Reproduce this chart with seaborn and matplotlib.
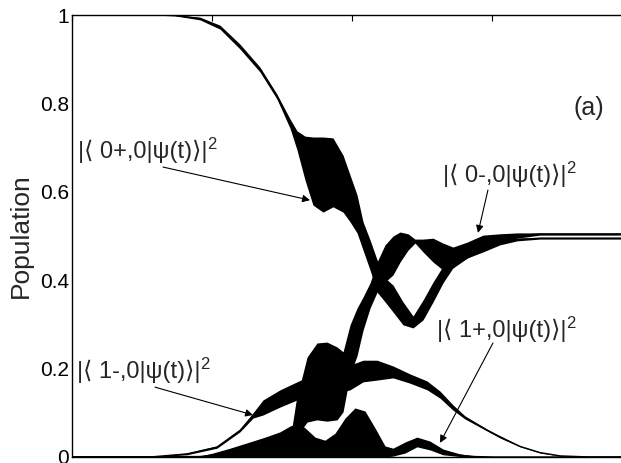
import numpy as np
import pandas as pd
import matplotlib
matplotlib.use("Agg")
import matplotlib.pyplot as plt
import seaborn as sns

# Fast Rabi-like oscillations are shown as bands: for each state, the time grid
# (arbitrary units) and the upper / lower envelope of the population.
t_0p = [0.0, 0.557, 0.736, 0.914, 1.057, 1.2, 1.343, 1.464, 1.557, 1.607, 1.664, 1.721,
        1.793, 1.864, 1.936, 1.986, 2.036, 2.079, 2.129, 2.179, 2.236, 2.293, 2.364,
        2.436, 2.507, 2.579, 2.65, 2.721, 2.821, 2.936, 3.057, 3.179, 3.343, 3.629, 4.0]
hi_0p = [1.0, 1.0, 1.0, 0.995, 0.977, 0.934, 0.882, 0.821, 0.765, 0.738, 0.726, 0.724,
         0.724, 0.722, 0.683, 0.638, 0.593, 0.532, 0.491, 0.446, 0.405, 0.389, 0.351,
         0.319, 0.355, 0.396, 0.432, 0.455, 0.473, 0.482, 0.491, 0.495, 0.497, 0.497, 0.497]
lo_0p = [1.0, 1.0, 0.998, 0.989, 0.968, 0.923, 0.871, 0.810, 0.744, 0.695, 0.627, 0.570,
         0.554, 0.566, 0.554, 0.532, 0.507, 0.468, 0.423, 0.373, 0.351, 0.328, 0.299,
         0.292, 0.310, 0.351, 0.394, 0.428, 0.450, 0.464, 0.480, 0.489, 0.493, 0.493, 0.493]

t_0m = [0.0, 1.2, 1.414, 1.557, 1.607, 1.629, 1.679, 1.75, 1.821, 1.893, 1.936, 1.986,
        2.036, 2.079, 2.129, 2.179, 2.236, 2.293, 2.343, 2.4, 2.45, 2.507, 2.579, 2.65,
        2.721, 2.821, 2.936, 3.057, 3.179, 3.343, 3.629, 4.0]
hi_0m = [0.0, 0.002, 0.016, 0.038, 0.140, 0.163, 0.226, 0.258, 0.260, 0.249, 0.238, 0.299,
         0.337, 0.362, 0.394, 0.441, 0.480, 0.500, 0.509, 0.505, 0.493, 0.493, 0.495, 0.484,
         0.475, 0.486, 0.502, 0.505, 0.507, 0.507, 0.507, 0.507]
lo_0m = [0.0, 0.0, 0.0, 0.0, 0.016, 0.057, 0.079, 0.084, 0.081, 0.084, 0.102, 0.186,
         0.229, 0.287, 0.337, 0.373, 0.396, 0.412, 0.441, 0.468, 0.484, 0.464, 0.441, 0.423,
         0.428, 0.450, 0.468, 0.484, 0.495, 0.502, 0.502, 0.502]

t_1m = [0.0, 0.557, 0.821, 1.036, 1.2, 1.293, 1.364, 1.486, 1.607, 1.721, 1.843, 1.986,
        2.079, 2.179, 2.293, 2.414, 2.536, 2.629, 2.721, 2.807, 2.964, 3.057, 3.2, 3.343,
        3.486, 3.7, 4.0]
hi_1m = [0.0, 0.0, 0.009, 0.025, 0.063, 0.100, 0.129, 0.152, 0.170, 0.186, 0.192, 0.208,
         0.219, 0.219, 0.206, 0.188, 0.172, 0.149, 0.118, 0.093, 0.063, 0.048, 0.025, 0.011,
         0.003, 0.0, 0.0]
lo_1m = [0.0, 0.0, 0.005, 0.020, 0.057, 0.088, 0.095, 0.113, 0.129, 0.133, 0.140, 0.152,
         0.170, 0.174, 0.179, 0.167, 0.152, 0.133, 0.106, 0.086, 0.059, 0.043, 0.023, 0.009,
         0.002, 0.0, 0.0]

t_1p = [0.0, 0.914, 1.007, 1.129, 1.25, 1.379, 1.486, 1.557, 1.614, 1.664, 1.736, 1.807,
        1.879, 1.95, 2.021, 2.093, 2.164, 2.236, 2.293, 2.379, 2.464, 2.557, 2.65, 2.771,
        2.879, 3.021, 4.0]
hi_1p = [0.0, 0.002, 0.009, 0.020, 0.032, 0.045, 0.057, 0.070, 0.077, 0.066, 0.045, 0.038,
         0.054, 0.088, 0.111, 0.104, 0.066, 0.025, 0.020, 0.034, 0.045, 0.036, 0.018, 0.007,
         0.002, 0.0, 0.0]
lo_1p = [0.0, 0.0, 0.0, 0.0, 0.0, 0.0, 0.0, 0.0, 0.0, 0.0, 0.0, 0.0,
         0.0, 0.0, 0.0, 0.0, 0.0, 0.0, 0.002, 0.009, 0.023, 0.016, 0.005, 0.001,
         0.0, 0.0, 0.0]

y_ticks = [0, 0.2, 0.4, 0.6, 0.8, 1]
y_tick_labels = ["0", "0.2", "0.4", "0.6", "0.8", "1"]
x_ticks = [0, 1, 2, 3, 4]

curves = {
    "0+": (t_0p, hi_0p, lo_0p),
    "0-": (t_0m, hi_0m, lo_0m),
    "1-": (t_1m, hi_1m, lo_1m),
    "1+": (t_1p, hi_1p, lo_1p),
}

rows = []
for state, (tt, hi, lo) in curves.items():
    for t, a, b in zip(tt, hi, lo):
        rows.append((state, t, a))
        rows.append((state, t, b))
df = pd.DataFrame(rows, columns=["state", "t", "population"])

sns.set_style("white")
plt.rcParams["font.family"] = ["Liberation Sans", "DejaVu Sans"]

fig = plt.figure(figsize=(6.21, 4.63), dpi=100)
ax = fig.add_axes([72 / 621, 6 / 463, 560 / 621, 442 / 463])

sns.lineplot(
    data=df, x="t", y="population", hue="state",
    palette={s: "black" for s in curves},
    estimator="mean", errorbar=("pi", 100),
    err_kws={"alpha": 1.0, "linewidth": 0},
    linewidth=1.0, legend=False, ax=ax,
)

ax.set_xlim(0, 4)
ax.set_ylim(0, 1)
ax.set_xticks(x_ticks)
ax.set_xticklabels([])
ax.set_yticks(y_ticks)
ax.set_yticklabels(y_tick_labels)
ax.set_xlabel("")
ax.set_ylabel("Population", fontsize=19)
ax.yaxis.set_label_coords(-0.07, 0.5)
ax.tick_params(direction="in", length=4, width=0.8, top=True, right=True,
               labelsize=15, pad=2, colors="black")
for sp in ax.spines.values():
    sp.set_color("black")
    sp.set_linewidth(1.0)

arrow = dict(arrowstyle="-|>", color="black", lw=0.8, mutation_scale=11,
             shrinkA=0, shrinkB=0)
fs = 17
fam = ["Liberation Sans", "DejaVu Sans"]


def state_label(x, y, state):
    """Write |<state,0|psi(t)>| with the square as a raised '2'."""
    txt = ax.text(x, y, "|\u27e8 " + state + ",0|\u03c8(t)\u27e9|",
                  fontsize=fs, va="baseline", family=fam)
    ax.annotate("2", xy=(1.0, 1.0), xycoords=txt, xytext=(0, 2),
                textcoords="offset points", fontsize=12, ha="left", va="top",
                family=fam)


state_label(0.043, 0.676, "0+")
ax.annotate("", xy=(1.70, 0.581), xytext=(0.65, 0.656), arrowprops=arrow)

state_label(2.65, 0.622, "0-")
ax.annotate("", xy=(2.90, 0.507), xytext=(2.971, 0.604), arrowprops=arrow)

state_label(0.036, 0.179, "1-")
ax.annotate("", xy=(1.293, 0.095), xytext=(0.593, 0.158), arrowprops=arrow)

state_label(2.607, 0.271, "1+")
ax.annotate("", xy=(2.629, 0.032), xytext=(3.007, 0.258), arrowprops=arrow)

ax.text(3.579, 0.774, "(a)", fontsize=18, va="baseline")

fig.savefig("out.png", dpi=100)
